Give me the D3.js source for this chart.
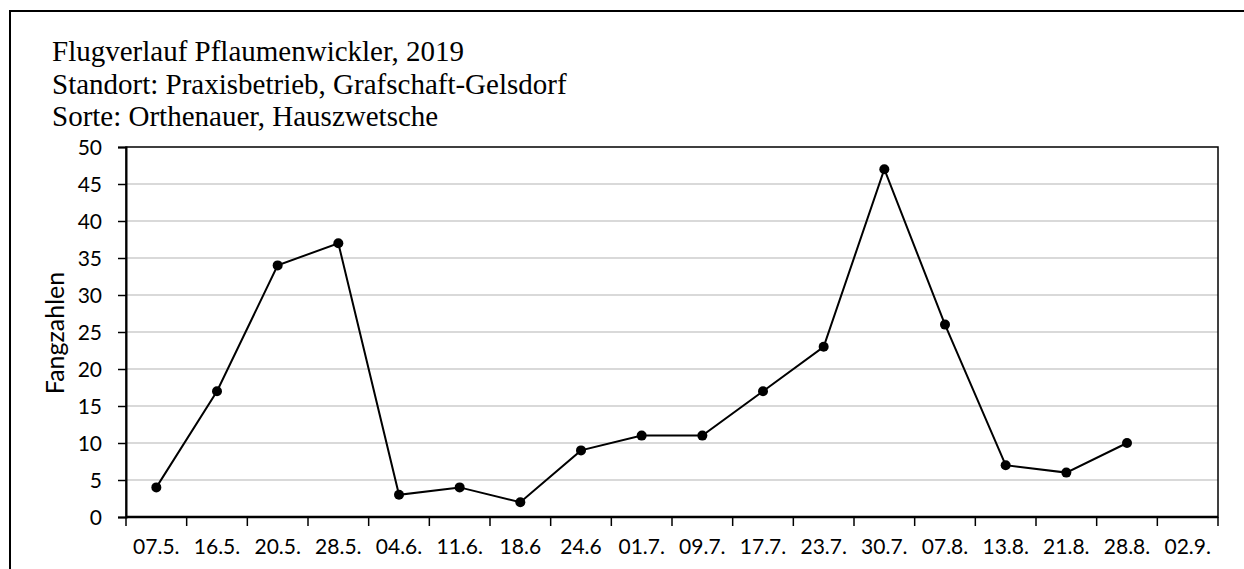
<!DOCTYPE html>
<html lang="de">
<head>
  <meta charset="utf-8">
  <title>Flugverlauf Pflaumenwickler 2019</title>
  <script src="https://d3js.org/d3.v7.min.js"></script>
  <style>
    body { margin: 0; background: white; }
    .title { font-family: "Liberation Serif", "Times New Roman", serif; font-size: 29px; fill: #000; }
    .tick text { font-family: Lato, "Noto Sans", sans-serif; font-size: 21px; fill: #000; }
  </style>
</head>
<body>
<div id="chart"></div>
<script>
  // data
  var dates = ["07.5.", "16.5.", "20.5.", "28.5.", "04.6.", "11.6.", "18.6", "24.6", "01.7.",
               "09.7.", "17.7.", "23.7.", "30.7.", "07.8.", "13.8.", "21.8.", "28.8.", "02.9."]
  var counts = [4, 17, 34, 37, 3, 4, 2, 9, 11, 11, 17, 23, 47, 26, 7, 6, 10, null]
  var yTicks = [0, 5, 10, 15, 20, 25, 30, 35, 40, 45, 50]
  var titleLines = ["Flugverlauf Pflaumenwickler, 2019",
                    "Standort: Praxisbetrieb, Grafschaft-Gelsdorf",
                    "Sorte: Orthenauer, Hauszwetsche"]

  var width = 1244
  var height = 569
  var margin = {top: 147, right: 26, bottom: 52, left: 126}
  var w = width - margin.left - margin.right
  var h = height - margin.top - margin.bottom

  var svg = d3.select("#chart")
    .append("svg")
      .attr("width", width)
      .attr("height", height)

  // outer frame of the chart area
  svg.append("rect")
    .attr("x", 10).attr("y", 11)
    .attr("width", width + 20).attr("height", height + 20)
    .attr("fill", "none")
    .attr("stroke", "#000")
    .attr("stroke-width", 2)

  // title block
  svg.selectAll(".title")
    .data(titleLines)
    .enter()
    .append("text")
      .attr("class", "title")
      .attr("x", 52)
      .attr("y", function(d, i){ return 61 + i * 32.5 })
      .text(function(d){ return d })

  var g = svg.append("g")
    .attr("transform", "translate(" + margin.left + "," + margin.top + ")")

  var x = d3.scaleBand()
    .domain(dates)
    .range([0, w])

  var y = d3.scaleLinear()
    .domain([0, 50])
    .range([h, 0])

  // gridlines
  g.append("g")
    .selectAll("line")
    .data(yTicks.filter(function(d){ return d > 0 && d < 50 }))
    .enter()
    .append("line")
      .attr("x1", 0).attr("x2", w)
      .attr("y1", function(d){ return y(d) })
      .attr("y2", function(d){ return y(d) })
      .attr("stroke", "#d9d9d9")
      .attr("stroke-width", 2)

  // plot frame (top + right)
  g.append("rect")
    .attr("x", 0).attr("y", 0)
    .attr("width", w).attr("height", h)
    .attr("fill", "none")
    .attr("stroke", "#000")
    .attr("stroke-width", 1.5)

  // y axis
  var yAxis = g.append("g")
    .call(d3.axisLeft(y).tickValues(yTicks).tickSize(8).tickPadding(16))
  yAxis.select(".domain").attr("stroke", "#000").attr("stroke-width", 2)
  yAxis.selectAll(".tick line").attr("stroke", "#000").attr("stroke-width", 1.5)
  yAxis.selectAll(".tick text").attr("dy", "0.35em")

  // x axis: labels centered in each band, ticks on band edges
  var xAxis = g.append("g")
    .attr("transform", "translate(0," + h + ")")
    .call(d3.axisBottom(x).tickSize(0).tickPadding(22))
  xAxis.select(".domain").remove()
  xAxis.append("line")
    .attr("x1", 0).attr("x2", w)
    .attr("stroke", "#000").attr("stroke-width", 2.5)
  xAxis.selectAll(".edge")
    .data(dates.concat(["end"]))
    .enter()
    .append("line")
      .attr("class", "edge")
      .attr("x1", function(d, i){ return i * x.step() })
      .attr("x2", function(d, i){ return i * x.step() })
      .attr("y1", 0).attr("y2", 9)
      .attr("stroke", "#000").attr("stroke-width", 1.5)

  // series
  var pts = dates.map(function(d, i){ return {date: d, value: counts[i]} })
    .filter(function(d){ return d.value !== null })

  var line = d3.line()
    .x(function(d){ return x(d.date) + x.bandwidth() / 2 })
    .y(function(d){ return y(d.value) })

  g.append("path")
    .datum(pts)
    .attr("d", line)
    .attr("fill", "none")
    .attr("stroke", "#000")
    .attr("stroke-width", 2)

  g.selectAll(".dot")
    .data(pts)
    .enter()
    .append("circle")
      .attr("class", "dot")
      .attr("cx", function(d){ return x(d.date) + x.bandwidth() / 2 })
      .attr("cy", function(d){ return y(d.value) })
      .attr("r", 5)
      .attr("fill", "#000")

  // y axis title
  svg.append("text")
    .attr("transform", "translate(64,333) rotate(-90)")
    .attr("text-anchor", "middle")
    .style("font-family", "Lato, 'Noto Sans', sans-serif")
    .style("font-size", "25px")
    .text("Fangzahlen")
</script>
</body>
</html>
